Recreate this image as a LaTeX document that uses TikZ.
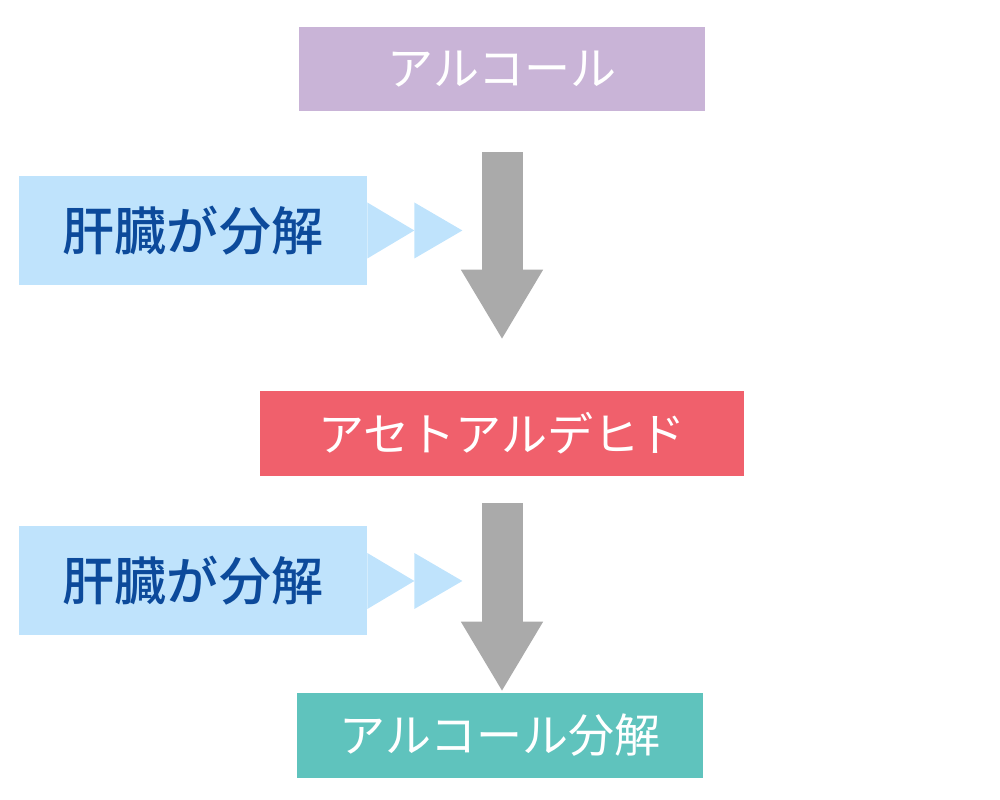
\documentclass[tikz,border=0pt]{standalone}
\usepackage{fontspec}
\newfontfamily\cjk{Noto Sans CJK JP}
\newfontfamily\cjkbold{Noto Sans CJK JP Medium}
\usetikzlibrary{arrows.meta,calc}
\definecolor{alcpurple}{HTML}{C9B4D7}
\definecolor{aldred}{HTML}{F0606C}
\definecolor{endgreen}{HTML}{5FC3BD}
\definecolor{liverblue}{HTML}{BFE3FC}
\definecolor{livertext}{HTML}{0C4A9B}
\definecolor{flowgray}{HTML}{AAAAAA}

\begin{document}
\begin{tikzpicture}[
  stage/.style={fill=#1, text=white, minimum height=1.7cm, inner sep=0pt,
    font=\cjk\fontsize{26.2pt}{30pt}\selectfont},
  liver/.style={fill=liverblue, text=livertext, minimum width=6.96cm, minimum height=2.18cm,
    inner sep=0pt, font=\cjkbold\fontsize{29.6pt}{34pt}\selectfont},
  flow/.style={flowgray, line width=0.82cm, -{Triangle[length=1.4cm, width=1.54cm]}}]
\useasboundingbox (0,0) rectangle (20,16);
\node[stage=alcpurple, minimum width=8.12cm, minimum height=1.68cm] (alc) at (10.04,14.62) {アルコール};
\node[stage=aldred, minimum width=9.68cm] (ald) at (10.04,7.33) {アセトアルデヒド};
\node[stage=endgreen, minimum width=8.12cm] (dec) at (10.0,1.29) {アルコール分解};
\node[liver] (liv1) at (3.86,11.39) {肝臓が分解};
\node[liver] (liv2) at (3.86,4.38) {肝臓が分解};
\draw[flow] ($(alc.south)+(0,-0.82)$) -- ($(ald.north)+(0,1.02)$);
\draw[flow] ($(ald.south)+(0,-0.54)$) -- ($(ald.south |- dec.north)+(0,0.02)$);
\foreach \l in {liv1,liv2}{
  \fill[liverblue] ($(\l.east)+(0,0.56)$) -- ($(\l.east)+(0.94,0)$) -- ($(\l.east)+(0,-0.56)$) -- cycle;
  \fill[liverblue] ($(\l.east)+(0.94,0.56)$) -- ($(\l.east)+(1.9,0)$) -- ($(\l.east)+(0.94,-0.56)$) -- cycle;
}
\end{tikzpicture}
\end{document}
